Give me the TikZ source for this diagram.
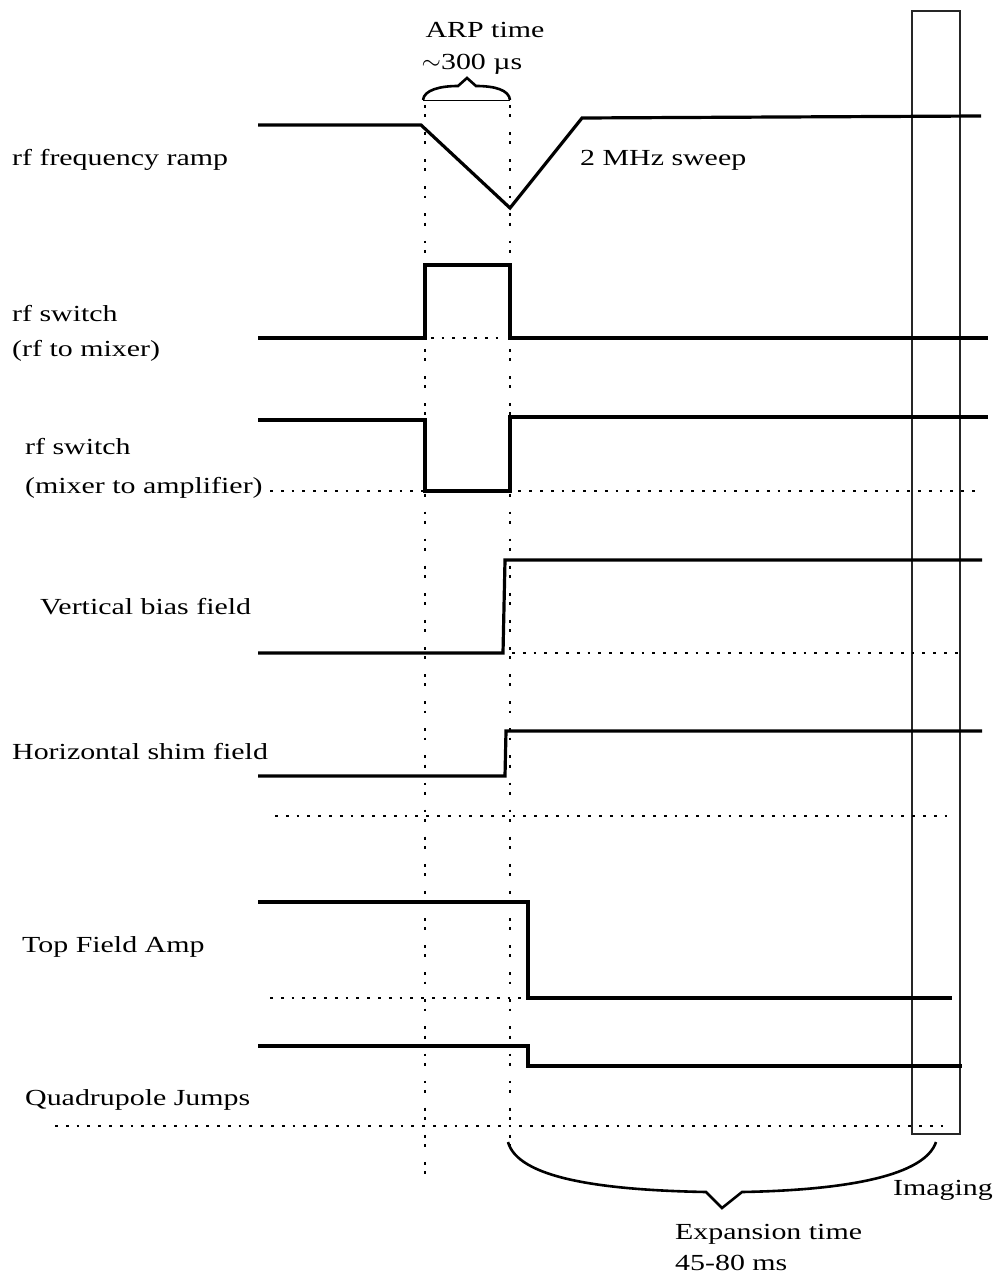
\documentclass[tikz,border=0pt]{standalone}
\usepackage{fontspec}
\setmainfont{Liberation Serif}[FakeStretch=1.3]
\begin{document}
\begin{tikzpicture}[x=1pt,y=-1pt,
  sig/.style={line width=3.2pt, line join=miter},
  vdots/.style={line width=2.8pt, dash pattern=on 2.8pt off 6.5pt on 2.8pt off 15pt},
  hdots/.style={line width=2.8pt, dash pattern=on 2.8pt off 8pt},
  lbl/.style={font=\fontsize{23}{37}\selectfont, inner sep=0pt, align=left, anchor=west},
  bracestyle/.style={line width=2.6pt, line join=miter}]
\useasboundingbox (0,0) rectangle (995,1276);
% vertical dotted guides
\coordinate (v1t) at (425,105); \coordinate (v1b) at (425,1176);
\coordinate (v2t) at (510,105); \coordinate (v2b) at (510,1150);
\draw[vdots] (v1t) -- (v1b);
\draw[vdots] (v2t) -- (v2b);
% imaging window
\draw[line width=1.3pt, draw=black!85] (912,11) rectangle (960,1134);
\node[lbl] (img) at (893,1190) {Imaging};
% top brace
\draw[line width=0.9pt] (423,100) -- (510,100);
\draw[bracestyle] (423,100) .. controls (424,90) and (440,86) .. (458,86) -- (467,78) -- (476,86) .. controls (495,86) and (509,90) .. (510,100);
\node[font=\fontsize{23}{28}\selectfont, inner sep=0pt] (arp) at (485,30) {ARP time};
\node[font=\fontsize{23}{28}\selectfont, inner sep=0pt] (arpt) at (472,64) {$\sim$300 µs};
% row 1: rf frequency ramp
\node[lbl] (l1) at (12,160) {rf frequency ramp};
\node[lbl] (sweep) at (580,160) {2 MHz sweep};
\draw[sig] (258,125) -- (421,125) -- (510,208) -- (582,118) -- (981,116);
% row 2: rf switch (rf to mixer)
\node[lbl, font=\fontsize{23}{35}\selectfont] (l2) at (12,333) {rf switch\\(rf to mixer)};
\draw[hdots] (258,338) -- (505,338);
\draw[sig] (258,338) -- (425,338) -- (425,265) -- (510,265) -- (510,338) -- (988,338);
% row 3: rf switch (mixer to amplifier)
\node[lbl, font=\fontsize{23}{39}\selectfont] (l3) at (25,468) {rf switch\\(mixer to amplifier)};
\draw[hdots] (270,491) -- (980,491);
\draw[sig] (258,420) -- (425,420) -- (425,491) -- (510,491) -- (510,417) -- (988,417);
% row 4: vertical bias field
\node[lbl] (l4) at (40,607) {Vertical bias field};
\draw[hdots] (512,653) -- (960,653);
\draw[sig] (258,653) -- (503,653) -- (505,560) -- (982,560);
% row 5: horizontal shim field
\node[lbl] (l5) at (12,752) {Horizontal shim field};
\draw[hdots] (275,816) -- (950,816);
\draw[sig] (258,776) -- (505,776) -- (506,731) -- (982,731);
% row 6: top field amp
\node[lbl] (l6) at (22,947) {Top Field Amp};
\draw[hdots] (270,998) -- (522,998);
\draw[sig] (258,902) -- (528,902) -- (528,998) -- (952,998);
% row 7: quadrupole jumps
\node[lbl] (l7) at (25,1100) {Quadrupole Jumps};
\draw[hdots] (55,1126) -- (945,1126);
\draw[sig] (258,1046) -- (528,1046) -- (528,1066) -- (962,1066);
% bottom brace
\draw[bracestyle] (508,1142) .. controls (518,1178) and (600,1190) .. (706,1192) -- (722,1208) -- (742,1192) .. controls (850,1190) and (925,1175) .. (936,1142);
\node[lbl, font=\fontsize{23}{31}\selectfont] (exp) at (675,1247) {Expansion time\\45-80 ms};
\end{tikzpicture}
\end{document}
